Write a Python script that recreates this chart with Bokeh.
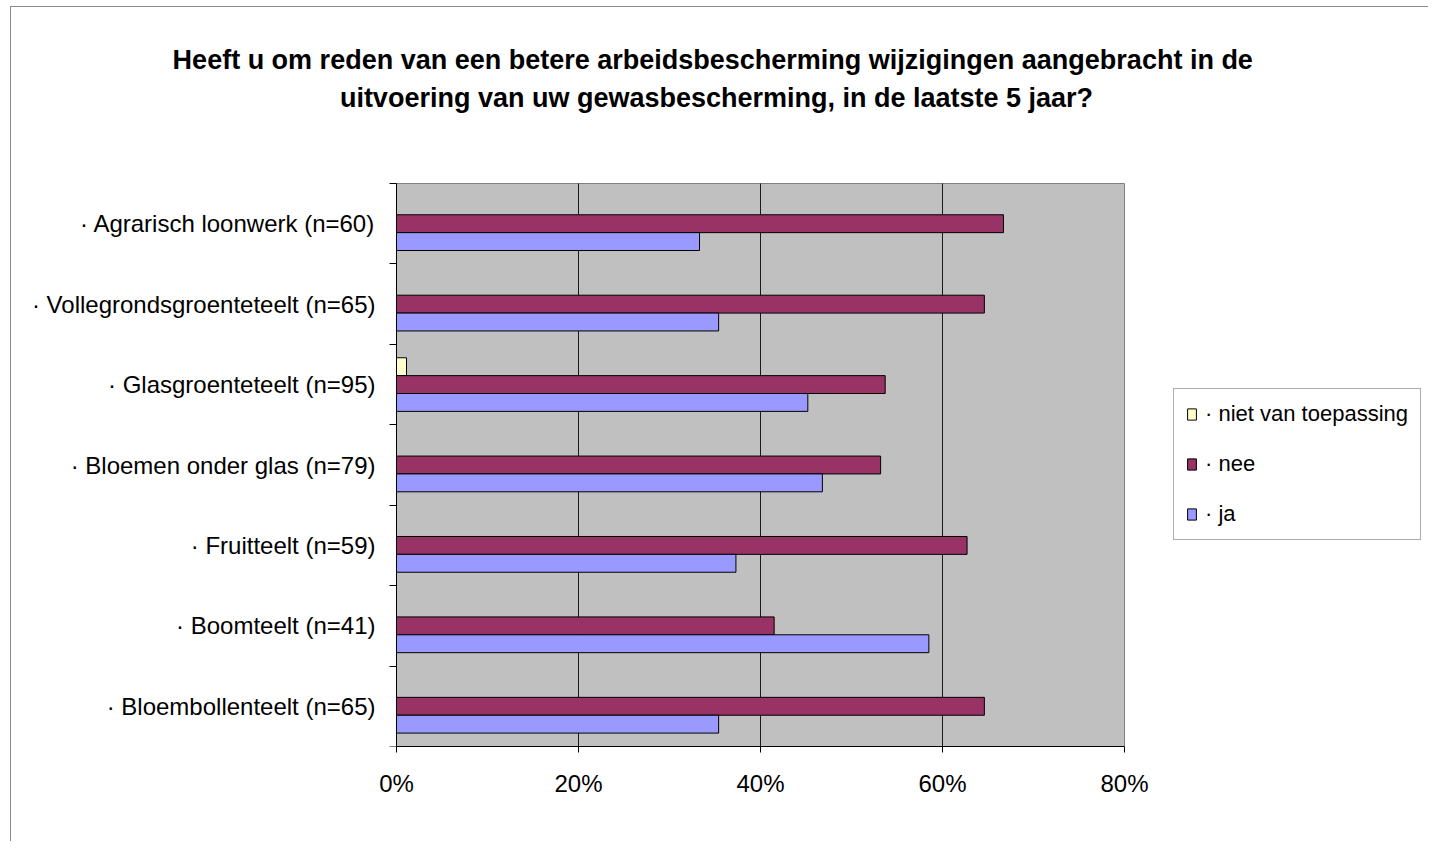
from bokeh.plotting import figure
from bokeh.models import (ColumnDataSource, Range1d, FixedTicker, NumeralTickFormatter,
                          Legend, LegendItem, Label)
from bokeh.transform import dodge
from bokeh.embed import file_html
from bokeh.resources import INLINE

# ---- data ----
categories = [
    "Agrarisch loonwerk (n=60)",
    "Vollegrondsgroenteteelt (n=65)",
    "Glasgroenteteelt (n=95)",
    "Bloemen onder glas (n=79)",
    "Fruitteelt (n=59)",
    "Boomteelt (n=41)",
    "Bloembollenteelt (n=65)",
]
niet_van_toepassing = [0.0, 0.0, 0.011, 0.0, 0.0, 0.0, 0.0]
nee = [0.667, 0.646, 0.537, 0.532, 0.627, 0.415, 0.646]
ja = [0.333, 0.354, 0.452, 0.468, 0.373, 0.585, 0.354]
series_labels = ["niet van toepassing", "nee", "ja"]
x_ticks = [0.0, 0.2, 0.4, 0.6, 0.8]
title_lines = [
    "Heeft u om  reden van een betere arbeidsbescherming wijzigingen aangebracht in de",
    "uitvoering van uw gewasbescherming, in de laatste 5 jaar?",
]

n = len(categories)
ypos = [n - i for i in range(n)]
src = ColumnDataSource(dict(y=ypos, niet=niet_van_toepassing, nee=nee, ja=ja))

FONT = "'Liberation Sans', Arial, sans-serif"

x_lo, x_hi = x_ticks[0], x_ticks[-1]
y_lo, y_hi = 0.5, n + 0.5
# frame covers the whole canvas above the x axis; plot area = [x_lo, x_hi] x [y_lo, y_hi]
px_per_y = 563 / n
px_per_x = 728 / (x_hi - x_lo)
y_top = y_hi + 176 / px_per_y
x_left = x_lo - 385 / px_per_x
x_right = x_hi + 305 / px_per_x

p = figure(width=1418, height=835, output_backend="svg", toolbar_location=None,
           x_range=Range1d(x_left, x_right), y_range=Range1d(y_lo, y_top),
           min_border_left=0, min_border_right=0, min_border_top=0,
           min_border_bottom=96)
p.background_fill_color = "white"
p.border_fill_color = "white"
p.outline_line_color = None
p.styles = {"margin-left": "10px", "margin-top": "6px",
            "border-left": "1px solid #8c8c8c", "border-top": "1px solid #8c8c8c"}
p.xgrid.grid_line_color = None
p.ygrid.grid_line_color = None

# plot area background
p.quad(left=x_lo, right=x_hi, bottom=y_lo, top=y_hi, fill_color="#C0C0C0",
       line_color="#808080", line_width=1)
# vertical gridlines at inner ticks
grid_x = x_ticks[1:-1]
p.segment(x0=grid_x, y0=[y_lo] * len(grid_x), x1=grid_x, y1=[y_hi] * len(grid_x),
          line_color="#1a1a1a", line_width=1)

bar_h = 1 / 4.5
r_niet = p.hbar(y=dodge("y", bar_h, range=p.y_range), left=0, right="niet", height=bar_h,
                source=src, fill_color="#FFFFCC", line_color="black", line_width=1)
r_nee = p.hbar(y=dodge("y", 0, range=p.y_range), left=0, right="nee", height=bar_h,
               source=src, fill_color="#993366", line_color="black", line_width=1)
r_ja = p.hbar(y=dodge("y", -bar_h, range=p.y_range), left=0, right="ja", height=bar_h,
              source=src, fill_color="#9999FF", line_color="black", line_width=1)

# x axis
xa = p.xaxis[0]
xa.bounds = (x_lo, x_hi)
xa.ticker = FixedTicker(ticks=x_ticks)
xa.formatter = NumeralTickFormatter(format="0%")
xa.axis_line_color = "black"
xa.major_tick_line_color = "black"
xa.major_tick_out = 6
xa.major_tick_in = 0
xa.minor_tick_line_color = None
xa.major_label_text_font = FONT
xa.major_label_text_font_size = "24px"
xa.major_label_text_color = "black"
xa.major_label_standoff = 17

# y axis, pinned at x = 0
ya = p.yaxis[0]
ya.fixed_location = x_lo
ya.bounds = (y_lo, y_hi)
ya.ticker = FixedTicker(ticks=ypos, minor_ticks=[k + 0.5 for k in range(n + 1)])
ya.major_label_overrides = {ypos[i]: "\u00b7 " + categories[i] for i in range(n)}
ya.axis_line_color = "black"
ya.major_tick_line_color = None
ya.minor_tick_line_color = "black"
ya.minor_tick_out = 7
ya.minor_tick_in = 0
ya.major_label_text_font = FONT
ya.major_label_text_font_size = "24px"
ya.major_label_text_color = "black"
ya.major_label_standoff = 14

# title (two centred lines)
title_x = x_lo + 320 / px_per_x
for txt, base_px in zip(title_lines, [59, 97]):
    p.add_layout(Label(x=title_x, y=y_lo + (746 - base_px) / px_per_y, text=txt,
                       text_align="center", text_baseline="alphabetic",
                       text_font=FONT, text_font_size="27px",
                       text_font_style="bold", text_color="black"))

legend = Legend(items=[
    LegendItem(label="\u00b7 " + series_labels[0], renderers=[r_niet]),
    LegendItem(label="\u00b7 " + series_labels[1], renderers=[r_nee]),
    LegendItem(label="\u00b7 " + series_labels[2], renderers=[r_ja]),
], location=(1162, 206))
legend.background_fill_color = "white"
legend.background_fill_alpha = 1
legend.border_line_color = "#5a5a5a"
legend.border_line_width = 1
legend.label_text_font = FONT
legend.label_text_font_size = "22px"
legend.label_text_color = "black"
legend.glyph_width = 11
legend.glyph_height = 14
legend.label_height = 22
legend.label_standoff = 8
legend.spacing = 24
legend.padding = 12
legend.margin = 0
p.add_layout(legend, "center")

open("out.html", "w").write(file_html(p, INLINE))
